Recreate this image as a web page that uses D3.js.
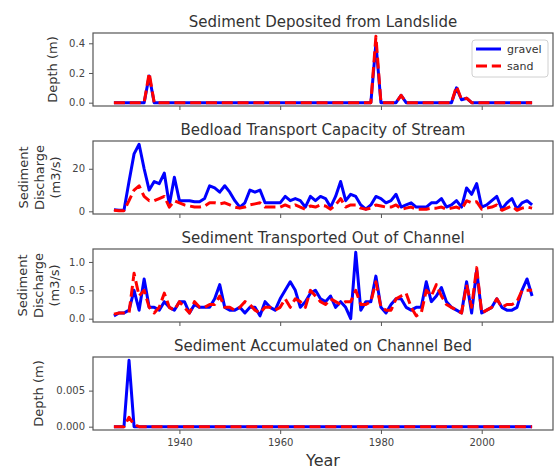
<!DOCTYPE html>
<html>
<head>
<meta charset="utf-8">
<script src="https://cdn.jsdelivr.net/npm/d3@7"></script>
<style>
  body { margin: 0; background: #fff; }
  svg text { font-family: "DejaVu Sans", sans-serif; fill: #333; }
</style>
</head>
<body>
<div id="chart"></div>
<script>
// yearly series, 1927 - 2010
const years = [
  1927, 1928, 1929, 1930, 1931, 1932, 1933, 1934, 1935, 1936,
  1937, 1938, 1939, 1940, 1941, 1942, 1943, 1944, 1945, 1946,
  1947, 1948, 1949, 1950, 1951, 1952, 1953, 1954, 1955, 1956,
  1957, 1958, 1959, 1960, 1961, 1962, 1963, 1964, 1965, 1966,
  1967, 1968, 1969, 1970, 1971, 1972, 1973, 1974, 1975, 1976,
  1977, 1978, 1979, 1980, 1981, 1982, 1983, 1984, 1985, 1986,
  1987, 1988, 1989, 1990, 1991, 1992, 1993, 1994, 1995, 1996,
  1997, 1998, 1999, 2000, 2001, 2002, 2003, 2004, 2005, 2006,
  2007, 2008, 2009, 2010];

const landslideGravel = [
  0, 0, 0, 0, 0, 0, 0, 0.18, 0, 0,
  0, 0, 0, 0, 0, 0, 0, 0, 0, 0,
  0, 0, 0, 0, 0, 0, 0, 0, 0, 0,
  0, 0, 0, 0, 0, 0, 0, 0, 0, 0,
  0, 0, 0, 0, 0, 0, 0, 0, 0, 0,
  0, 0, 0.40, 0, 0, 0, 0, 0.05, 0, 0,
  0, 0, 0, 0, 0, 0, 0, 0, 0.10, 0.02,
  0.03, 0, 0, 0, 0, 0, 0, 0, 0, 0,
  0, 0, 0, 0];
const landslideSand = [
  0, 0, 0, 0, 0, 0, 0, 0.20, 0, 0,
  0, 0, 0, 0, 0, 0, 0, 0, 0, 0,
  0, 0, 0, 0, 0, 0, 0, 0, 0, 0,
  0, 0, 0, 0, 0, 0, 0, 0, 0, 0,
  0, 0, 0, 0, 0, 0, 0, 0, 0, 0,
  0, 0, 0.447, 0, 0, 0, 0, 0.05, 0, 0,
  0, 0, 0, 0, 0, 0, 0, 0, 0.11, 0.02,
  0.03, 0, 0, 0, 0, 0, 0, 0, 0, 0,
  0, 0, 0, 0];

const bedloadGravel = [
  0.8, 0.5, 0.5, 14, 27, 31.5, 20, 10, 14, 13,
  18, 3, 16, 5, 5, 5, 4.5, 4.5, 6, 12,
  11, 9, 12, 9, 5, 2, 4, 10, 9, 10,
  4, 4, 4, 4, 7, 5, 6, 5, 2, 7,
  5, 7, 6, 2, 7, 14, 5, 8, 7, 3,
  1, 3, 7, 6, 4, 5, 8, 2, 3, 4,
  2, 2, 2, 4, 4, 6, 2, 3, 5, 2,
  11, 8, 13, 2, 3, 5, 7, 1, 4, 6,
  1, 4, 5, 3];
const bedloadSand = [
  0.5, 0.3, 0.3, 5, 10, 12, 7, 5, 5, 6,
  7, 2, 5, 4, 3, 2.5, 2, 2, 2.5, 4,
  4, 3.5, 4, 3, 2, 1.5, 2, 3, 3.5, 4,
  2, 2, 2, 2, 3, 2, 3, 2, 1, 2.5,
  2, 3, 2.5, 1, 3, 6, 2, 3, 3, 1.5,
  1, 1.5, 3, 2.5, 2, 2, 3, 1, 1.5, 2,
  1, 1, 1, 1.5, 1.5, 2, 1, 1.5, 2, 1,
  5, 4, 4.5, 1, 1.5, 2, 3, 0.5, 1.5, 2.5,
  0.5, 1.5, 2, 1.5];

const transportGravel = [
  0.05, 0.1, 0.1, 0.15, 0.5, 0.15, 0.7, 0.2, 0.2, 0.15,
  0.3, 0.2, 0.15, 0.3, 0.3, 0.1, 0.25, 0.2, 0.2, 0.2,
  0.35, 0.6, 0.2, 0.15, 0.15, 0.2, 0.1, 0.2, 0.2, 0.05,
  0.3, 0.2, 0.15, 0.35, 0.5, 0.65, 0.5, 0.2, 0.3, 0.45,
  0.5, 0.35, 0.3, 0.4, 0.2, 0.3, 0.2, 0.0, 1.17, 0.15,
  0.3, 0.3, 0.75, 0.2, 0.1, 0.25, 0.35, 0.35, 0.2, 0.15,
  0.2, 0.2, 0.65, 0.3, 0.4, 0.55, 0.3, 0.2, 0.15, 0.1,
  0.65, 0.1, 0.85, 0.1, 0.15, 0.2, 0.35, 0.2, 0.15, 0.15,
  0.2, 0.5, 0.7, 0.4];
const transportSand = [
  0.08, 0.1, 0.1, 0.1, 0.8, 0.4, 0.5, 0.2, 0.1, 0.2,
  0.45, 0.2, 0.15, 0.3, 0.2, 0.1, 0.3, 0.2, 0.2, 0.25,
  0.25, 0.4, 0.2, 0.2, 0.15, 0.2, 0.3, 0.25, 0.15, 0.1,
  0.2, 0.2, 0.15, 0.2, 0.35, 0.2, 0.35, 0.3, 0.2, 0.5,
  0.4, 0.3, 0.25, 0.35, 0.3, 0.25, 0.3, 0.3, 0.5, 0.25,
  0.25, 0.3, 0.65, 0.2, 0.15, 0.15, 0.35, 0.4, 0.45, 0.2,
  0.05, 0.1, 0.5, 0.4, 0.6, 0.4, 0.25, 0.2, 0.15, 0.1,
  0.6, 0.2, 0.9, 0.1, 0.15, 0.2, 0.35, 0.2, 0.25, 0.25,
  0.3, 0.5, 0.5, 0.5];

const bedGravel = [
  0, 0, 0, 0.0092, 0, 0, 0, 0, 0, 0,
  0, 0, 0, 0, 0, 0, 0, 0, 0, 0,
  0, 0, 0, 0, 0, 0, 0, 0, 0, 0,
  0, 0, 0, 0, 0, 0, 0, 0, 0, 0,
  0, 0, 0, 0, 0, 0, 0, 0, 0, 0,
  0, 0, 0, 0, 0, 0, 0, 0, 0, 0,
  0, 0, 0, 0, 0, 0, 0, 0, 0, 0,
  0, 0, 0, 0, 0, 0, 0, 0, 0, 0,
  0, 0, 0, 0];
const bedSand = [
  0, 0, 0, 0.0013, 0.0003, 0, 0, 0, 0, 0,
  0, 0, 0, 0, 0, 0, 0, 0, 0, 0,
  0, 0, 0, 0, 0, 0, 0, 0, 0, 0,
  0, 0, 0, 0, 0, 0, 0, 0, 0, 0,
  0, 0, 0, 0, 0, 0, 0, 0, 0, 0,
  0, 0, 0, 0, 0, 0, 0, 0, 0, 0,
  0, 0, 0, 0, 0, 0, 0, 0, 0, 0,
  0, 0, 0, 0, 0, 0, 0, 0, 0, 0,
  0, 0, 0, 0];

const titles = ["Sediment Deposited from Landslide", "Bedload Transport Capacity of Stream",
                "Sediment Transported Out of Channel", "Sediment Accumulated on Channel Bed"];
const yLabels = [["Depth (m)"], ["Sediment", "Discharge", "(m3/s)"],
                 ["Sediment", "Discharge", "(m3/s)"], ["Depth (m)"]];
const yTicks = [[0, 0.2, 0.4], [0, 20], [0, 0.5, 1.0], [0, 0.005]];
const yFormats = [".1f", "d", ".1f", ".3f"];
const xTicks = [1940, 1960, 1980, 2000];
const seriesNames = ["gravel", "sand"];

const gravelSeries = [landslideGravel, bedloadGravel, transportGravel, bedGravel];
const sandSeries = [landslideSand, bedloadSand, transportSand, bedSand];

// layout
const w = 557;
const h = 470;
const left = 93;
const right = 553;
const panelTop = 33;
const panelStep = 108;
const panelH = 73;
const labelX = [[52], [23, 39, 55], [22, 38, 54], [38]];
const lw = 3;
const dash = "11,4.8";

const svg = d3.select("#chart")
              .append("svg")
              .attr("width", w)
              .attr("height", h);

// matplotlib style 5% margins
const padded = (lo, hi) => [lo - (hi - lo) * 0.05, hi + (hi - lo) * 0.05];

const xScale = d3.scaleLinear()
                 .domain(padded(d3.min(years), d3.max(years)))
                 .range([left, right]);

gravelSeries.forEach((gravel, i) => {
    const sand = sandSeries[i];
    const top = panelTop + i * panelStep;
    const bottom = top + panelH;
    const all = gravel.concat(sand);

    const yScale = d3.scaleLinear()
                     .domain(padded(d3.min(all), d3.max(all)))
                     .range([bottom, top]);

    const g = svg.append("g").attr("class", "panel");

    const line = d3.line()
                   .x((d, j) => xScale(years[j]))
                   .y(d => yScale(d));

    g.append("path")
     .datum(gravel)
     .attr("d", line)
     .attr("fill", "none")
     .attr("stroke", "#0000ff")
     .attr("stroke-width", lw)
     .attr("stroke-linejoin", "round");

    g.append("path")
     .datum(sand)
     .attr("d", line)
     .attr("fill", "none")
     .attr("stroke", "#ff0000")
     .attr("stroke-width", lw)
     .attr("stroke-dasharray", dash)
     .attr("stroke-linejoin", "round");

    // y axis
    const yAxis = d3.axisLeft(yScale)
                    .tickValues(yTicks[i])
                    .tickFormat(d3.format(yFormats[i]))
                    .tickSize(4)
                    .tickPadding(4);
    const ya = g.append("g")
                .attr("transform", `translate(${left}, 0)`)
                .call(yAxis);
    ya.select(".domain").remove();
    ya.selectAll("line").attr("stroke", "#555");
    ya.selectAll("text").style("font-size", "10px").style("fill", "#444")
      .style("font-family", "DejaVu Sans, sans-serif");

    // x axis, labels only on the last panel
    const xAxis = d3.axisBottom(xScale)
                    .tickValues(xTicks)
                    .tickFormat(i === 3 ? d3.format("d") : "")
                    .tickSize(4)
                    .tickPadding(5);
    const xa = g.append("g")
                .attr("transform", `translate(0, ${bottom})`)
                .call(xAxis);
    xa.select(".domain").remove();
    xa.selectAll("line").attr("stroke", "#555");
    xa.selectAll("text").style("font-size", "10px").style("fill", "#444")
      .style("font-family", "DejaVu Sans, sans-serif");

    // frame
    g.append("rect")
     .attr("x", left)
     .attr("y", top)
     .attr("width", right - left)
     .attr("height", panelH)
     .attr("fill", "none")
     .attr("stroke", "#555")
     .attr("stroke-width", 1.2);

    g.append("text")
     .attr("x", (left + right) / 2)
     .attr("y", top - 6)
     .attr("text-anchor", "middle")
     .style("font-size", "15px")
     .text(titles[i]);

    yLabels[i].forEach((txt, k) => {
        g.append("text")
         .attr("text-anchor", "middle")
         .attr("dominant-baseline", "central")
         .attr("transform", `translate(${labelX[i][k]}, ${(top + bottom) / 2}) rotate(-90)`)
         .style("font-size", "13px")
         .text(txt);
    });
});

// legend in the first panel
const legend = svg.append("g").attr("class", "legend");
legend.append("rect")
      .attr("x", 472)
      .attr("y", 40)
      .attr("width", 76)
      .attr("height", 37)
      .attr("rx", 3)
      .attr("fill", "#fff")
      .attr("fill-opacity", 0.8)
      .attr("stroke", "#d0d0d0");

seriesNames.forEach((name, k) => {
    const ly = 49 + k * 17;
    legend.append("line")
          .attr("x1", 476)
          .attr("x2", 501)
          .attr("y1", ly)
          .attr("y2", ly)
          .attr("stroke", k === 0 ? "#0000ff" : "#ff0000")
          .attr("stroke-width", lw)
          .attr("stroke-dasharray", k === 0 ? null : dash);
    legend.append("text")
          .attr("x", 507)
          .attr("y", ly)
          .attr("dominant-baseline", "central")
          .style("font-size", "11px")
          .text(name);
});

svg.append("text")
   .attr("x", (left + right) / 2)
   .attr("y", 466)
   .attr("text-anchor", "middle")
   .style("font-size", "16px")
   .text("Year");
</script>
</body>
</html>
